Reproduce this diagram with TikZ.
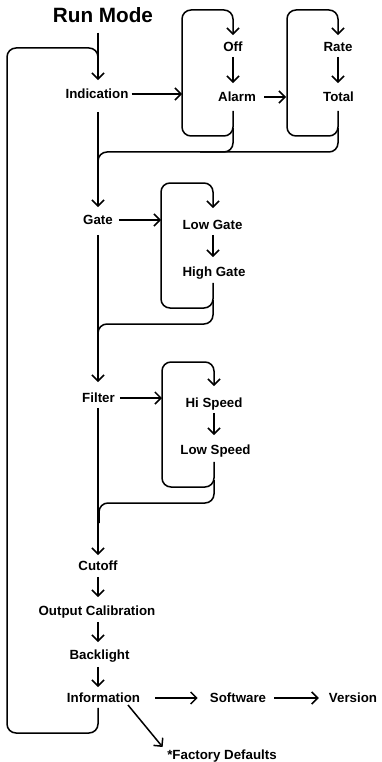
\documentclass[tikz,border=0pt]{standalone}
\usepackage{fontspec}
\setmainfont{Liberation Sans}
\usetikzlibrary{arrows.meta,calc}
\tikzset{
  lbl/.style={font=\fontsize{13.3}{16}\selectfont\bfseries, inner sep=0pt, text height=9.5pt, text depth=0pt},
  ttl/.style={font=\fontsize{20.7}{24}\selectfont\bfseries, inner sep=0pt, text height=14.8pt, text depth=0pt},
  ln/.style={line width=1.5pt, rounded corners=9pt},
  arr/.style={-{Straight Barb[length=6pt,width=12pt,line width=1.5pt]}}
}
\begin{document}
\begin{tikzpicture}[x=1pt,y=-1pt]
\useasboundingbox (0,0) rectangle (382,762);
% nodes
\node[ttl] (run) at (103,15) {Run Mode};
\node[lbl] (ind) at (97,94) {Indication};
\node[lbl] (off) at (233,47) {Off};
\node[lbl] (alarm) at (237,97) {Alarm};
\node[lbl] (rate) at (338,47) {Rate};
\node[lbl] (total) at (338.5,97) {Total};
\node[lbl] (gate) at (98,220) {Gate};
\node[lbl] (lowg) at (212.5,225) {Low Gate};
\node[lbl] (highg) at (214,272) {High Gate};
\node[lbl] (filter) at (98.5,398) {Filter};
\node[lbl] (hisp) at (214,403) {Hi Speed};
\node[lbl] (losp) at (215.5,450) {Low Speed};
\node[lbl] (cutoff) at (98,566) {Cutoff};
\node[lbl] (outcal) at (97,611) {Output Calibration};
\node[lbl] (back) at (99.5,655) {Backlight};
\node[lbl] (info) at (103.5,698) {Information};
\node[lbl] (soft) at (238,698) {Software};
\node[lbl] (ver) at (353,698) {Version};
\node[lbl] (fact) at (222,755) {*Factory Defaults};
% box entry points
\coordinate (b1w) at (182,94);
\coordinate (b2w) at (286,97);
\coordinate (b3w) at (161,220);
\coordinate (b4w) at (162,398);
% main spine
\draw[ln,arr] ($(run.south)+(-5,10)$) -- ($(ind.north)+(1,-9)$);
\draw[ln,arr] ($(ind.south)+(1,13)$) -- ($(gate.north)+(0,-8)$);
\draw[ln,arr] ($(gate.south)+(0,10)$) -- ($(filter.north -| gate)+(0,-11)$);
\draw[ln,arr] ($(filter.south -| gate)+(0,5)$) -- ($(cutoff.north)+(0,-6)$);
\draw[ln,arr] ($(cutoff.south)+(0,6)$) -- ($(outcal.north -| cutoff)+(0,-9)$);
\draw[ln,arr] ($(outcal.south -| cutoff)+(0,6)$) -- ($(back.north -| cutoff)+(0,-8)$);
\draw[ln,arr] ($(back.south -| cutoff)+(0,7)$) -- ($(info.north -| cutoff)+(0,-6)$);
% outer loop
\draw[ln] ($(info.south -| cutoff)+(0,5)$) -- (98,733) -- (7,733) -- (7,48) -- (98,48) -- (98,70);
% Indication group
\draw[ln,arr] ($(ind.east)+(3,0)$) -- (b1w);
\draw[ln,arr] ($(off.south)+(0,5)$) -- ($(alarm.north -| off)+(0,-9)$);
\draw[ln,arr] ($(alarm.south -| off)+(0,9)$) -- (233,136) -- (182,136) -- (182,10) -- (233,10) -- ($(off.north)+(0,-7)$);
\draw[ln,arr] ($(alarm.east)+(8,0)$) -- (b2w);
\draw[ln,arr] ($(rate.south)+(0,5)$) -- ($(total.north -| rate)+(0,-9)$);
\draw[ln,arr] ($(total.south -| rate)+(0,9)$) -- (338,136) -- (287,136) -- (287,10) -- (338,10) -- ($(rate.north)+(0,-7)$);
\draw[ln] (338,128) -- (338,152) -- (98,152) -- (98,172);
\draw[ln] (233,128) -- (233,152) -- (200,152);
% Gate group
\draw[ln,arr] ($(gate.east)+(6,0)$) -- (b3w);
\draw[ln,arr] ($(lowg.south -| highg)+(-1,5)$) -- ($(highg.north)+(-1,-10)$);
\draw[ln,arr] ($(highg.south)+(-1,6)$) -- (213,308) -- (161,308) -- (161,183) -- (213,183) -- ($(lowg.north -| highg)+(-1,-12)$);
\draw[ln] (213,300) -- (213,324) -- (98,324) -- (98,344);
% Filter group
\draw[ln,arr] ($(filter.east)+(5,0)$) -- (b4w);
\draw[ln,arr] ($(hisp.south)+(0,5)$) -- ($(losp.north -| hisp)+(0,-10)$);
\draw[ln,arr] ($(losp.south -| hisp)+(0,7)$) -- (214,487) -- (162,487) -- (162,362) -- (214,362) -- ($(hisp.north)+(0,-12)$);
\draw[ln] (214,480) -- (214,503) -- (99,503) -- (99,523);
% Information group
\draw[ln,arr] ($(info.east)+(15,0)$) -- ($(soft.west)+(-12,0)$);
\draw[ln,arr] ($(soft.east)+(8,0)$) -- ($(ver.west)+(-10,0)$);
\draw[ln,arr] ($(info.center)+(24.5,7)$) -- ($(fact.west)+(-4.5,-8)$);
\end{tikzpicture}
\end{document}
